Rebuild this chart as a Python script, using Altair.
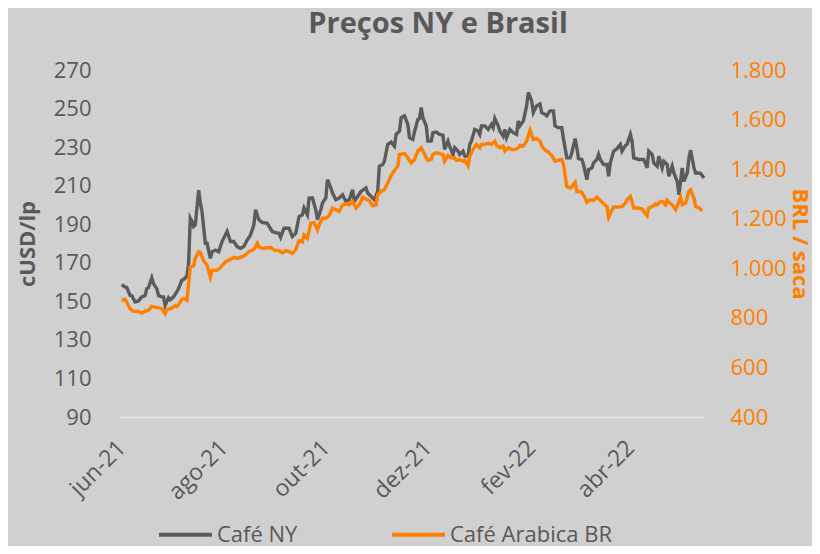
import altair as alt
import pandas as pd

# ---- data (days since 2021-06-01) ----
ny_days = [0, 2, 3, 5, 6, 8, 10, 12, 14, 15, 16, 18, 19, 21, 22, 24, 25, 26, 28, 29,
           31, 33, 34, 36, 37, 39, 40, 41, 42, 43, 44, 46, 47, 48, 50, 51, 53, 54, 56, 58,
           60, 63, 65, 67, 69, 71, 73, 75, 77, 79, 80, 82, 84, 87, 90, 92, 94, 95, 97, 100,
           102, 104, 106, 108, 109, 111, 112, 114, 116, 117, 119, 120, 122, 123, 125, 126, 128, 130, 132, 134,
           136, 138, 139, 141, 143, 146, 147, 150, 151, 153, 154, 156, 157, 159, 161, 163, 164, 166, 167, 169,
           171, 172, 174, 175, 177, 178, 179, 180, 182, 183, 185, 186, 188, 190, 192, 193, 195, 196, 198, 199,
           201, 202, 204, 205, 207, 208, 209, 211, 213, 214, 215, 217, 219, 221, 222, 223, 225, 226, 228, 229,
           230, 232, 234, 236, 237, 238, 240, 242, 243, 245, 246, 248, 250, 251, 253, 254, 256, 258, 259, 261,
           263, 264, 266, 268, 269, 271, 272, 273, 275, 276, 278, 279, 281, 282, 284, 285, 286, 288, 290, 291,
           292, 294, 296, 298, 299, 301, 302, 304, 305, 306, 309, 311, 312, 314, 315, 317, 318, 320, 321, 323,
           324, 326, 327, 329, 330, 332, 333, 335, 336, 338, 339, 340, 342, 343, 345, 346, 348]
ny_vals = [158.7, 157.5, 157.2, 153.1, 153.0, 149.7, 150.2, 152.3, 153.0, 156.6, 157.1, 162.2, 159.2, 156.6, 153.0, 152.3, 152.3, 147.9, 151.9, 150.8,
           152.3, 155.0, 156.6, 161.0, 161.3, 163.0, 169.7, 193.1, 191.4, 188.8, 189.7, 207.6, 201.0, 196.6, 180.1, 180.1, 172.3, 175.7, 176.6, 175.7,
           181.0, 186.2, 181.0, 181.0, 178.4, 177.5, 178.4, 181.8, 184.4, 189.7, 197.5, 192.3, 190.9, 190.5, 186.2, 185.6, 185.3, 183.2, 187.9, 187.9,
           183.6, 185.3, 194.0, 194.9, 198.4, 194.9, 203.6, 203.6, 197.5, 192.3, 197.5, 201.0, 203.6, 213.1, 208.8, 206.2, 202.7, 203.6, 205.3, 201.8,
           202.7, 207.9, 201.8, 204.4, 207.0, 208.8, 206.2, 203.6, 202.7, 207.0, 220.1, 221.0, 222.7, 231.4, 232.6, 230.5, 236.6, 238.3, 245.3, 246.2,
           241.8, 234.9, 234.0, 238.0, 244.4, 244.8, 250.5, 245.3, 241.0, 233.1, 233.1, 237.5, 237.8, 236.6, 236.1, 228.8, 233.1, 230.5, 226.2, 229.7,
           227.9, 226.2, 227.9, 225.3, 225.3, 231.4, 233.1, 239.2, 238.3, 236.6, 241.0, 241.0, 239.2, 241.8, 240.1, 244.8, 241.0, 238.3, 235.7, 239.2,
           234.9, 239.2, 237.5, 236.6, 243.5, 241.0, 243.5, 251.4, 258.4, 254.0, 247.9, 251.4, 252.3, 247.9, 247.0, 246.2, 248.8, 248.8, 241.0, 240.1,
           240.1, 234.5, 224.4, 224.4, 227.1, 234.4, 229.7, 224.0, 223.6, 221.0, 213.1, 218.3, 219.2, 221.8, 223.6, 226.2, 223.6, 221.0, 221.0, 214.9,
           221.8, 227.9, 229.2, 231.4, 227.9, 230.8, 231.4, 236.6, 233.1, 224.4, 223.6, 223.6, 223.6, 219.2, 227.9, 226.2, 221.8, 220.1, 225.3, 219.2,
           222.7, 221.0, 214.9, 220.1, 216.6, 212.2, 205.3, 219.2, 212.2, 216.6, 224.4, 228.4, 219.2, 216.6, 216.6, 216.3, 214.0]

br_days = [0, 2, 3, 5, 7, 10, 12, 14, 16, 18, 20, 23, 24, 26, 27, 30, 32, 33, 34, 36,
           37, 39, 41, 43, 44, 46, 47, 49, 51, 53, 54, 57, 59, 62, 63, 65, 67, 69, 71, 74,
           76, 79, 81, 82, 84, 87, 89, 91, 94, 96, 98, 100, 102, 104, 106, 108, 109, 111, 113, 115,
           117, 118, 120, 122, 124, 126, 128, 130, 132, 134, 136, 138, 140, 142, 144, 146, 148, 150, 152, 153,
           155, 157, 159, 161, 163, 165, 166, 169, 171, 173, 175, 177, 179, 180, 182, 183, 185, 186, 188, 190,
           192, 193, 195, 197, 199, 200, 202, 204, 205, 207, 208, 210, 212, 214, 215, 217, 219, 221, 223, 224,
           226, 228, 229, 231, 233, 235, 237, 238, 240, 242, 244, 245, 246, 248, 250, 251, 253, 255, 257, 259,
           261, 263, 264, 266, 268, 269, 271, 272, 274, 275, 277, 278, 280, 282, 284, 286, 288, 290, 291, 293,
           294, 297, 299, 301, 302, 304, 305, 306, 309, 311, 312, 314, 315, 317, 319, 320, 322, 323, 325, 326,
           327, 329, 331, 332, 334, 335, 337, 339, 340, 342, 343, 345, 347]
br_vals = [871, 875, 864, 837, 826, 826, 819, 827, 830, 846, 843, 839, 837, 817, 833, 839, 850, 846, 854, 875,
           878, 871, 1006, 1010, 1040, 1067, 1063, 1030, 1013, 965, 992, 992, 1003, 1026, 1030, 1036, 1044, 1040, 1044, 1053,
           1067, 1076, 1101, 1087, 1080, 1083, 1084, 1074, 1071, 1063, 1071, 1067, 1060, 1074, 1111, 1107, 1134, 1121, 1182, 1184,
           1155, 1175, 1202, 1202, 1212, 1243, 1236, 1229, 1256, 1260, 1256, 1270, 1243, 1256, 1287, 1279, 1272, 1252, 1256, 1297,
           1310, 1317, 1344, 1374, 1395, 1412, 1459, 1463, 1446, 1425, 1439, 1473, 1486, 1473, 1446, 1436, 1439, 1459, 1466, 1463,
           1459, 1432, 1455, 1446, 1446, 1436, 1439, 1432, 1436, 1414, 1452, 1479, 1500, 1486, 1500, 1500, 1504, 1500, 1513, 1496,
           1486, 1493, 1473, 1486, 1479, 1479, 1486, 1496, 1493, 1513, 1558, 1540, 1520, 1523, 1513, 1493, 1477, 1469, 1455, 1432,
           1436, 1439, 1420, 1330, 1324, 1328, 1347, 1310, 1310, 1306, 1283, 1266, 1276, 1274, 1287, 1274, 1260, 1249, 1206, 1236,
           1247, 1247, 1249, 1263, 1276, 1290, 1270, 1243, 1243, 1239, 1229, 1212, 1243, 1249, 1260, 1256, 1270, 1270, 1256, 1274,
           1266, 1256, 1236, 1252, 1287, 1256, 1263, 1310, 1317, 1283, 1249, 1243, 1233]

series_names = ["Café NY", "Café Arabica BR"]
series_colors = ["#5b5b5b", "#ff7f00"]
month_names = ["jan", "fev", "mar", "abr", "mai", "jun", "jul", "ago", "set", "out", "nov", "dez"]
x_ticks = [(2021, 6), (2021, 8), (2021, 10), (2021, 12), (2022, 2), (2022, 4)]
ny_ticks = [90, 110, 130, 150, 170, 190, 210, 230, 250, 270]
br_ticks = [400, 600, 800, 1000, 1200, 1400, 1600, 1800]

base_date = pd.Timestamp("2021-06-01")
ny_df = pd.DataFrame({
    "date": [base_date + pd.Timedelta(days=d) for d in ny_days],
    "value": ny_vals,
    "serie": series_names[0],
})
br_df = pd.DataFrame({
    "date": [base_date + pd.Timedelta(days=d) for d in br_days],
    "value": br_vals,
    "serie": series_names[1],
})

FONT = "Open Sans"
GRAY = "#595959"
ORANGE = "#ff7f00"

month_expr = "[" + ",".join("'%s'" % m for m in month_names) + "]"

x_enc = alt.X(
    "date:T",
    scale=alt.Scale(domain=[alt.DateTime(year=2021, month=5, date=31),
                            alt.DateTime(year=2022, month=5, date=15)]),
    axis=alt.Axis(
        values=[alt.DateTime(year=y, month=m, date=1) for y, m in x_ticks],
        labelExpr=month_expr + "[month(datum.value)] + '-' + timeFormat(datum.value, '%y')",
        labelAngle=-45, labelAlign="right", labelBaseline="middle",
        labelFontSize=23, labelColor=GRAY, labelFont=FONT, labelPadding=27, labelOffset=0,
        ticks=False, grid=False, domainColor="#e4e4e4", domainWidth=2,
        title=None, labelOverlap=False,
    ),
)

color_enc = alt.Color(
    "serie:N",
    scale=alt.Scale(domain=series_names, range=series_colors),
    legend=alt.Legend(
        orient="none", legendX=37, legendY=436, direction="horizontal",
        title=None, symbolType="stroke", symbolStrokeWidth=4, symbolSize=2800,
        labelFontSize=22, labelColor=GRAY, labelFont=FONT, columnPadding=86,
        labelOffset=3, labelLimit=400,
    ),
)

ny_line = alt.Chart(ny_df).mark_line(strokeWidth=3.4).encode(
    x=x_enc,
    y=alt.Y("value:Q", scale=alt.Scale(domain=[90, 270]),
            axis=alt.Axis(values=ny_ticks, orient="left", title="cUSD/lp",
                          titleFontSize=22, titleFont=FONT, titleColor=GRAY, titleFontWeight="bold",
                          titlePadding=14, labelFontSize=22, labelFont=FONT, labelColor=GRAY,
                          labelPadding=29, ticks=False, domain=False, grid=False)),
    color=color_enc,
)

br_line = alt.Chart(br_df).mark_line(strokeWidth=3.4).encode(
    x=x_enc,
    y=alt.Y("value:Q", scale=alt.Scale(domain=[400, 1800]),
            axis=alt.Axis(values=br_ticks, orient="right", title="BRL / saca",
                          labelExpr="replace(format(datum.value, ','), ',', '.')",
                          titleFontSize=22, titleFont=FONT, titleColor=ORANGE, titleFontWeight="bold",
                          titlePadding=1, labelFontSize=22, labelFont=FONT, labelColor=ORANGE,
                          labelPadding=26, ticks=False, domain=False, grid=False)),
    color=color_enc,
)

chart = alt.layer(ny_line, br_line).resolve_scale(y="independent").properties(
    width=804, height=538,
    autosize=alt.AutoSizeParams(type="fit", contains="padding"),
    background="#d0d0d0",
    padding={"left": 8, "top": 2, "right": 1, "bottom": 42},
    title=alt.TitleParams("Preços NY e Brasil", fontSize=29, font=FONT, fontWeight="bold",
                          color=GRAY, anchor="middle", dx=26, offset=20),
).configure_view(stroke=None)

chart.save("out.html", embed_options={"renderer": "svg", "actions": False})
